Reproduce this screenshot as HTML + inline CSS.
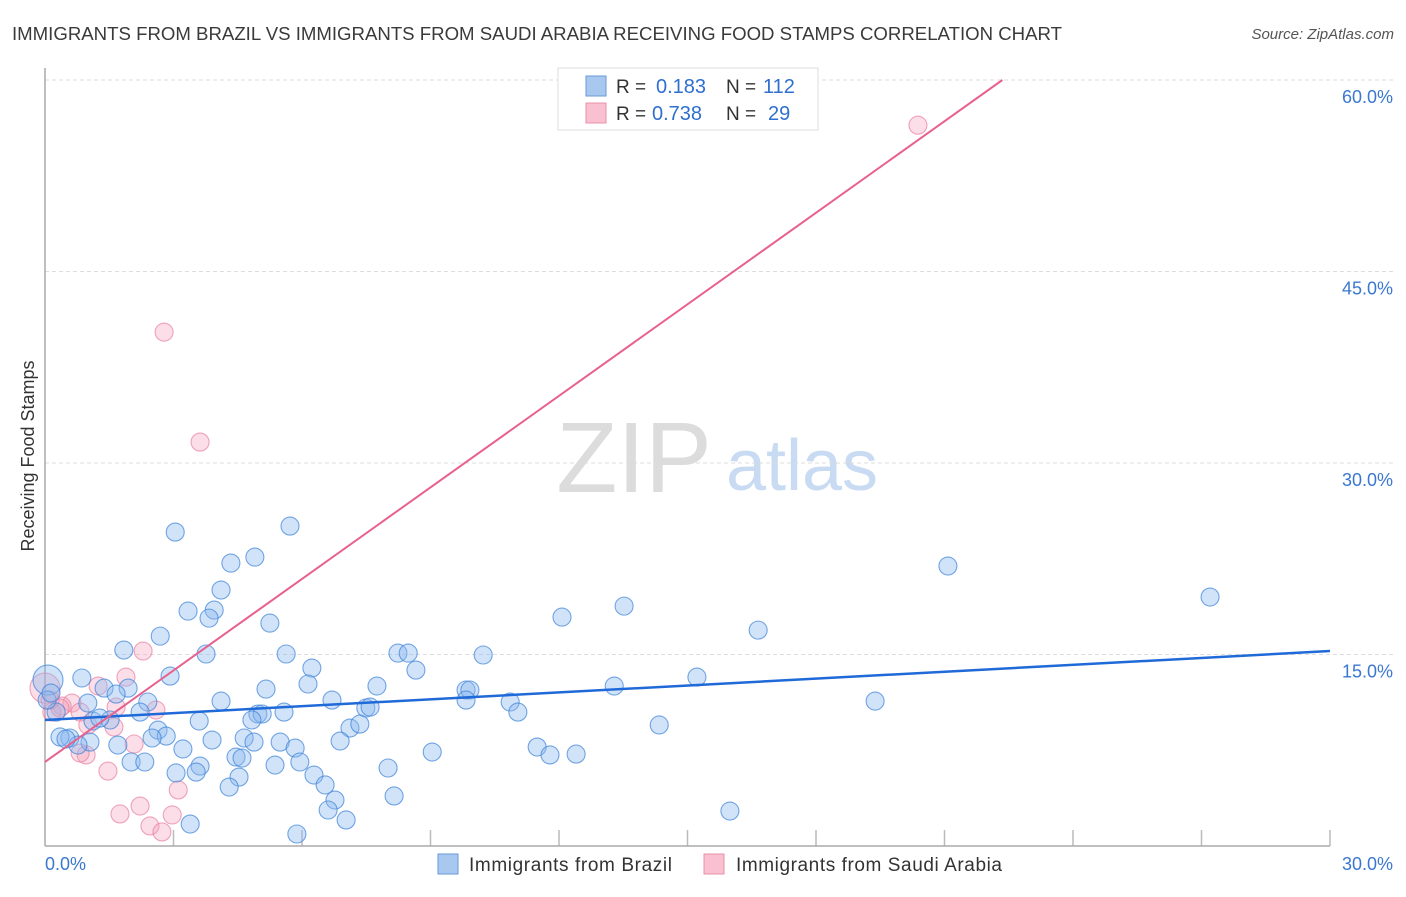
<!DOCTYPE html>
<html><head><meta charset="utf-8"><style>
body{margin:0;background:#fff;font-family:"Liberation Sans",sans-serif;}
svg text{font-family:"Liberation Sans",sans-serif;}
</style></head><body>
<svg id="chart" width="1406" height="892" xmlns="http://www.w3.org/2000/svg">
<text x="12" y="40" font-size="18" fill="#3a3a3a" textLength="1050" lengthAdjust="spacingAndGlyphs">IMMIGRANTS FROM BRAZIL VS IMMIGRANTS FROM SAUDI ARABIA RECEIVING FOOD STAMPS CORRELATION CHART</text>
<text x="1394" y="39" font-size="15" fill="#555" font-style="italic" text-anchor="end">Source: ZipAtlas.com</text>
<g>
<text x="634" y="492" font-size="100" fill="#dcdcdc" font-family="Liberation Serif,serif" text-anchor="middle">ZIP</text>
<text x="802" y="490" font-size="72" fill="#c8dbf2" text-anchor="middle">atlas</text>
</g>
<g id="grid"></g>
<line x1="45" y1="68" x2="45" y2="846" stroke="#aaa" stroke-width="1.5"/>
<line x1="45" y1="846" x2="1330" y2="846" stroke="#aaa" stroke-width="1.5"/>
<text transform="translate(34,456) rotate(-90)" font-size="18" fill="#333" text-anchor="middle">Receiving Food Stamps</text>
<g id="marks"></g>
<g>
<rect x="558" y="68" width="260" height="62" fill="#fff" stroke="#ddd"/>
<rect x="586" y="76" width="20" height="20" fill="#a8c8f0" stroke="#6a9ad8"/>
<rect x="586" y="103" width="20" height="20" fill="#f8c0d0" stroke="#e890aa"/>
<text x="616" y="93" font-size="19" fill="#333">R =</text>
<text x="656" y="93" font-size="20" fill="#2f6fd0">0.183</text>
<text x="726" y="93" font-size="19" fill="#333">N =</text>
<text x="763" y="93" font-size="20" fill="#2f6fd0">112</text>
<text x="616" y="120" font-size="19" fill="#333">R =</text>
<text x="652" y="120" font-size="20" fill="#2f6fd0">0.738</text>
<text x="726" y="120" font-size="19" fill="#333">N =</text>
<text x="768" y="120" font-size="20" fill="#2f6fd0">29</text>
</g>
<g>
<rect x="438" y="854" width="20" height="20" fill="#a8c8f0" stroke="#6a9ad8"/>
<text x="469" y="871" font-size="19" fill="#333" textLength="203">Immigrants from Brazil</text>
<rect x="704" y="854" width="20" height="20" fill="#f8c0d0" stroke="#e890aa"/>
<text x="736" y="871" font-size="19" fill="#333" textLength="266">Immigrants from Saudi Arabia</text>
</g>
</svg>
<script>
const yTicks=[15,30,45,60];
const yTickLabels=["15.0%","30.0%","45.0%","60.0%"];
const xTicks=[3,6,9,12,15,18,21,24,27,30];
const xEndLabels=["0.0%","30.0%"];
const brazilX=[0.07,3.04,4.34,4.90,5.72,4.11,3.34,3.95,3.83,5.25,2.69,1.84,3.76,5.63,2.92,6.23,0.86,6.14,5.16,1.38,1.94,1.66,2.40,4.11,6.70,1.00,2.22,4.97,5.07,5.58,4.83,1.52,3.60,1.12,7.12,2.64,2.83,2.50,0.58,0.35,3.90,4.65,4.88,5.49,6.89,1.70,3.22,5.84,1.05,0.77,4.46,4.60,3.62,2.01,2.33,3.06,3.53,5.37,5.95,4.53,6.28,6.54,4.30,6.77,6.61,7.03,3.39,5.88,7.75,7.49,7.59,7.35,8.24,8.48,8.66,8.01,8.15,9.04,9.83,9.92,9.83,10.23,10.86,11.04,11.49,11.79,12.07,12.40,13.29,13.52,14.34,15.22,15.99,16.65,19.38,21.08,27.20,0.26,0.05,0.14,0.49,1.28];
const brazilY=[13.0,24.59,22.16,22.63,25.06,20.05,18.40,18.48,17.85,17.46,16.44,15.35,15.04,15.04,13.31,13.94,13.16,12.69,12.29,12.37,12.37,11.90,11.28,11.35,11.43,11.20,10.49,10.34,10.34,10.49,9.87,9.87,9.79,9.79,9.24,9.08,8.61,8.46,8.46,8.54,8.30,8.46,8.14,8.14,8.22,7.91,7.60,7.67,8.14,7.91,6.97,6.89,6.26,6.58,6.58,5.72,5.79,6.34,6.58,5.40,5.56,4.78,4.62,3.60,2.82,2.04,1.72,0.94,12.53,10.81,10.88,9.55,15.11,15.11,13.78,6.11,3.92,7.36,12.22,12.22,11.43,14.96,11.28,10.49,7.75,7.13,17.93,7.20,12.53,18.79,9.48,13.23,2.74,16.91,11.35,21.93,19.50,10.49,11.43,11.98,8.38,10.02];
const saudiX=[0.0,2.78,3.62,20.38,2.29,1.89,1.24,0.63,0.40,0.16,0.82,1.66,2.59,1.00,1.61,2.08,0.96,0.82,1.47,3.11,2.22,1.75,2.97,2.45,2.73,0.12,0.35];
const saudiY=[12.37,40.25,31.64,56.46,15.27,13.23,12.53,11.20,10.96,10.49,10.49,10.88,10.65,9.48,9.32,7.99,7.13,7.28,5.87,4.39,3.13,2.51,2.43,1.57,1.10,11.43,10.81];
const brazilFit=[9.87,0.18];
const saudiFit=[6.58,2.39];
const NS="http://www.w3.org/2000/svg";
const X=v=>45+v*(1285/30), Y=v=>846-v*(766/60);
function mk(tag,attrs,parent){const e=document.createElementNS(NS,tag);for(const k in attrs)e.setAttribute(k,attrs[k]);parent.appendChild(e);return e;}
const grid=document.getElementById('grid'),marks=document.getElementById('marks');
yTicks.forEach((t,i)=>{
 const l=mk('line',{x1:45,x2:1393,y1:Y(t),y2:Y(t),stroke:'#ddd','stroke-dasharray':'4,3'},grid);
 
 
 const tx=mk('text',{x:1393,y:Y(t)+23,'font-size':18,fill:'#3a78d0','text-anchor':'end'},grid);tx.textContent=yTickLabels[i];
 
 
});
xTicks.forEach(t=>{const l=mk('line',{x1:X(t),x2:X(t),y1:830,y2:846,stroke:'#bbb','stroke-width':1.5},grid);
 
 });
[0,1].forEach(i=>{const tx=mk('text',{x:i?1393:45,y:870,'font-size':18,fill:'#3a78d0','text-anchor':i?'end':'start'},grid);tx.textContent=xEndLabels[i];
 
 });
function pts(xs,ys,fill,stroke,name){xs.forEach((x,i)=>{const c=mk('circle',{cx:X(x),cy:Y(ys[i]),r:i===0?15:9,fill:fill,stroke:stroke,'stroke-width':1.1},marks);
 
 });}
pts(saudiX,saudiY,'rgba(244,160,186,0.35)','rgba(230,120,155,0.65)','saudi-point');
pts(brazilX,brazilY,'rgba(140,185,240,0.4)','rgba(60,130,215,0.7)','brazil-point');
const bl=mk('line',{x1:X(0),y1:Y(brazilFit[0]),x2:X(30),y2:Y(brazilFit[0]+30*brazilFit[1]),stroke:'#1f6ad8','stroke-width':2.5},marks);


const xe=(60-saudiFit[0])/saudiFit[1];
const sl=mk('line',{x1:X(0),y1:Y(saudiFit[0]),x2:X(xe),y2:Y(60),stroke:'#e8608e','stroke-width':2},marks);


</script>
</body></html>
